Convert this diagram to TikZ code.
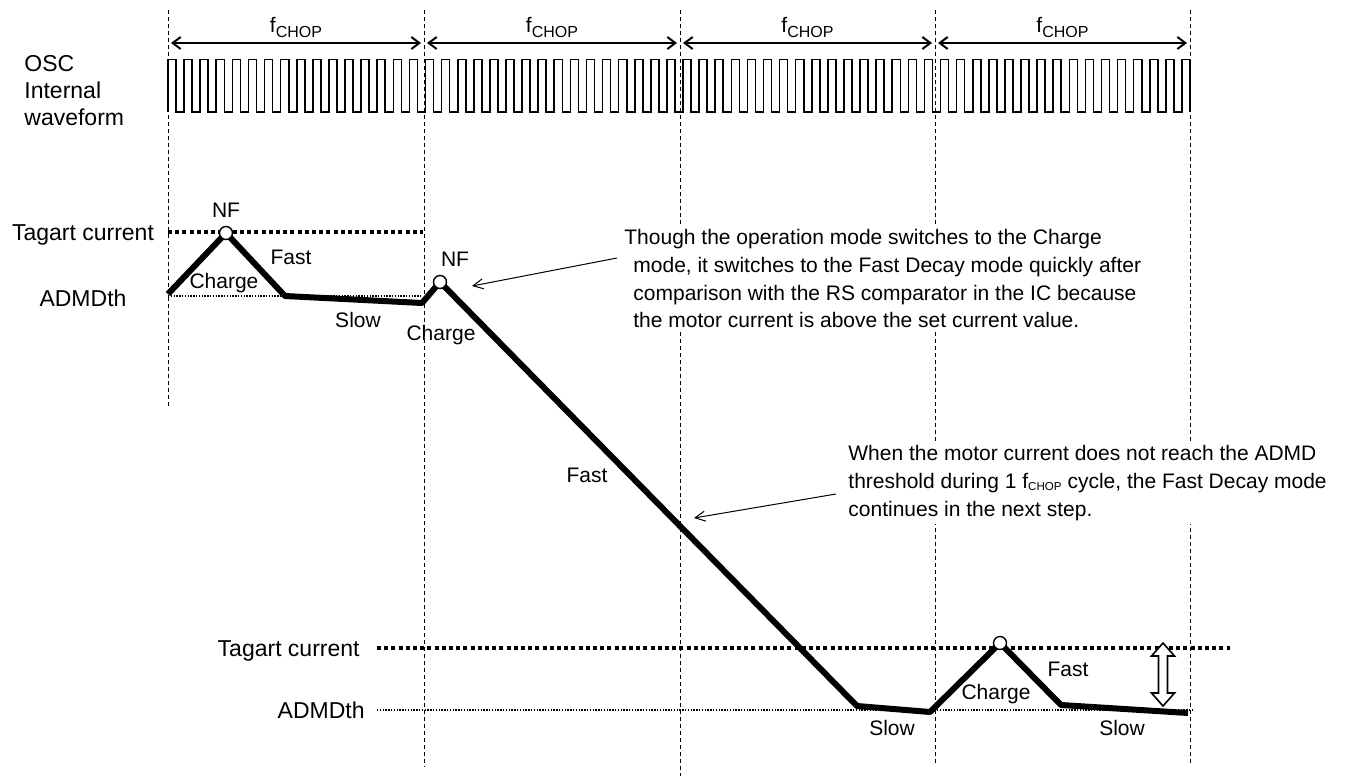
\documentclass[tikz,border=0pt]{standalone}
\usepackage{fontspec}
\setmainfont{Liberation Sans}
\usetikzlibrary{
  arrows.meta,  % Straight Barb arrow tips
  calc,         % coordinate arithmetic
  positioning   % relative placement of labels
}
\newcommand{\lblfont}{\fontsize{10.5pt}{13.85pt}\selectfont}
\newcommand{\sidefont}{\fontsize{11.5pt}{13.5pt}\selectfont}
\newcommand{\fchop}{f\raisebox{-2.5pt}{\fontsize{8pt}{8pt}\selectfont CHOP}}
\newcommand{\fchopsmall}{f\raisebox{-1pt}{\fontsize{5.8pt}{6pt}\selectfont CHOP}}
\tikzset{
  chop line/.style={
    line width=0.5pt,
    dash pattern=on 2pt off 1.5pt
  },
  chop arrow/.style={
    {Straight Barb[length=4pt,width=6pt]}-{Straight Barb[length=4pt,width=6pt]},
    line width=1pt,
    shorten <=1.5pt,
    shorten >=1.5pt
  },
  osc wave/.style={
    line width=0.8pt
  },
  coil current/.style={
    line width=3pt,
    line join=round
  },
  target level/.style={
    line width=1.8pt,
    dash pattern=on 2pt off 1.6pt
  },
  admd level/.style={
    line width=0.6pt,
    dash pattern=on 0.7pt off 0.7pt
  },
  peak dot/.style={
    circle,
    draw,
    fill=white,
    line width=0.7pt,
    inner sep=0pt,
    minimum size=6.5pt
  },
  mode label/.style={
    font=\lblfont,
    inner sep=0pt
  },
  note/.style={
    font=\lblfont,
    align=left,
    fill=white,
    inner sep=2pt
  },
  note arrow/.style={
    -{Straight Barb[length=5pt,width=5pt]},
    line width=0.5pt
  }
}

\begin{document}
\begin{tikzpicture}[x=0.5pt, y=-0.5pt]
    \useasboundingbox (0,0) rectangle (1354,776);

    % 1. chop period grid
    \foreach \n/\x in {0/168,1/424,2/680,3/935,4/1190}
      \coordinate (g\n) at (\x,43);
    \draw[chop line] (168,10) -- (168,408);
    \draw[chop line] (424,10) -- (424,767);
    \draw[chop line] (680,10) -- (680,776);
    \draw[chop line] (935,10) -- (935,765);
    \draw[chop line] (1190,10) -- (1190,763);

    % f_CHOP arrows between the grid lines
    \foreach \a/\b in {0/1,1/2,2/3,3/4}
      \draw[chop arrow] (g\a) -- (g\b)
        node[midway, above=2pt, font=\lblfont, inner sep=0pt] (fc\a) {\fchop};

    % 2. OSC internal waveform
    \node[font=\sidefont, align=left, anchor=west, inner sep=0pt] (osc) at (24,91) {OSC\\Internal\\waveform};
    \pgfmathsetmacro{\hw}{1022/127}
    \draw[osc wave] (168,112)
      \foreach \k in {1,...,63} { -- ++(0,-52.5) -- ++(\hw,0) -- ++(0,52.5) -- ++(\hw,0) }
      -- ++(0,-52.5) -- ++(\hw,0) -- ++(0,52.5);

    % 3. target and ADMD threshold levels
    \draw[target level] (168,232) -- (423,232);
    \draw[admd level] (168,296) -- (422,296);
    \draw[target level] (377,648) -- (1230,648);
    \draw[admd level] (377,710) -- (1192,710);
    \node[font=\sidefont, anchor=base, inner sep=0pt] (tgt1) at (83,240) {Tagart current};
    \node[font=\sidefont, anchor=base, inner sep=0pt] (adm1) at (83,306) {ADMDth};
    \node[font=\sidefont, anchor=base east, inner sep=0pt] (tgt2) at (360,656) {Tagart current};
    \node[font=\sidefont, anchor=base east, inner sep=0pt] (adm2) at (365,718) {ADMDth};

    % 4. notes (white boxes break the grid lines)
    \node[note, anchor=north west] (note1) at (620,225)
      {Though the operation mode switches to the Charge\\
       \hspace*{4.5pt}mode, it switches to the Fast Decay mode quickly after\\
       \hspace*{4.5pt}comparison with the RS comparator in the IC because\\
       \hspace*{4.5pt}the motor current is above the set current value.};
    \node[note, anchor=north west] (note2) at (844,441)
      {When the motor current does not reach the ADMD\\
       threshold during 1 \fchopsmall{} cycle, the Fast Decay mode\\
       continues in the next step.};

    % 5. motor current
    \coordinate (s0) at (168,294);
    \coordinate (pk1) at (226,233);
    \coordinate (s1) at (285,296);
    \coordinate (s2) at (422,303);
    \coordinate (pk2) at (440,282);
    \coordinate (s3) at (857,706);
    \coordinate (s4) at (930,712);
    \coordinate (pk3) at (1000,643);
    \coordinate (s5) at (1061,705);
    \coordinate (s6) at (1188,713);
    \draw[coil current] (s0) -- (pk1) -- (s1) -- (s2) -- (pk2) -- (s3) -- (s4) -- (pk3) -- (s5) -- (s6);
    \node[peak dot] (nf1) at (pk1) {};
    \node[peak dot] (nf2) at (pk2) {};
    \node[peak dot] (nf3) at (pk3) {};

    % mode labels
    \node[mode label, above=4pt of nf1] (nfl1) {NF};
    \node[mode label] (nfl2) at (455,259) {NF};
    \node[mode label] (ch1) at (224,283) {Charge};
    \node[mode label] (fa1) at (291,257) {Fast};
    \node[mode label] (sl1) at (358,320) {Slow};
    \node[mode label] (ch2) at (441,335) {Charge};
    \node[mode label] (fa2) at (587,475) {Fast};
    \node[mode label] (sl2) at (892,728) {Slow};
    \node[mode label] (ch3) at (996,694) {Charge};
    \node[mode label] (fa3) at (1068,669) {Fast};
    \node[mode label] (sl3) at (1122,728) {Slow};

    % 6. note arrows
    \coordinate (tail1) at (617,258);
    \coordinate (tip1) at (472,286);
    \draw[note arrow] (tail1) -- (tip1);
    \coordinate (tail2) at (836,494);
    \coordinate (tip2) at (694,518);
    \draw[note arrow] (tail2) -- (tip2);

    % 7. hollow double arrow: target minus ADMD threshold
    \draw[line width=0.8pt, fill=white] (1163,643) -- (1174.5,656) -- (1167.5,656) -- (1167.5,693)
      -- (1174.5,693) -- (1163,706) -- (1151.5,693) -- (1158.5,693) -- (1158.5,656) -- (1151.5,656) -- cycle;

  \end{tikzpicture}
\end{document}
